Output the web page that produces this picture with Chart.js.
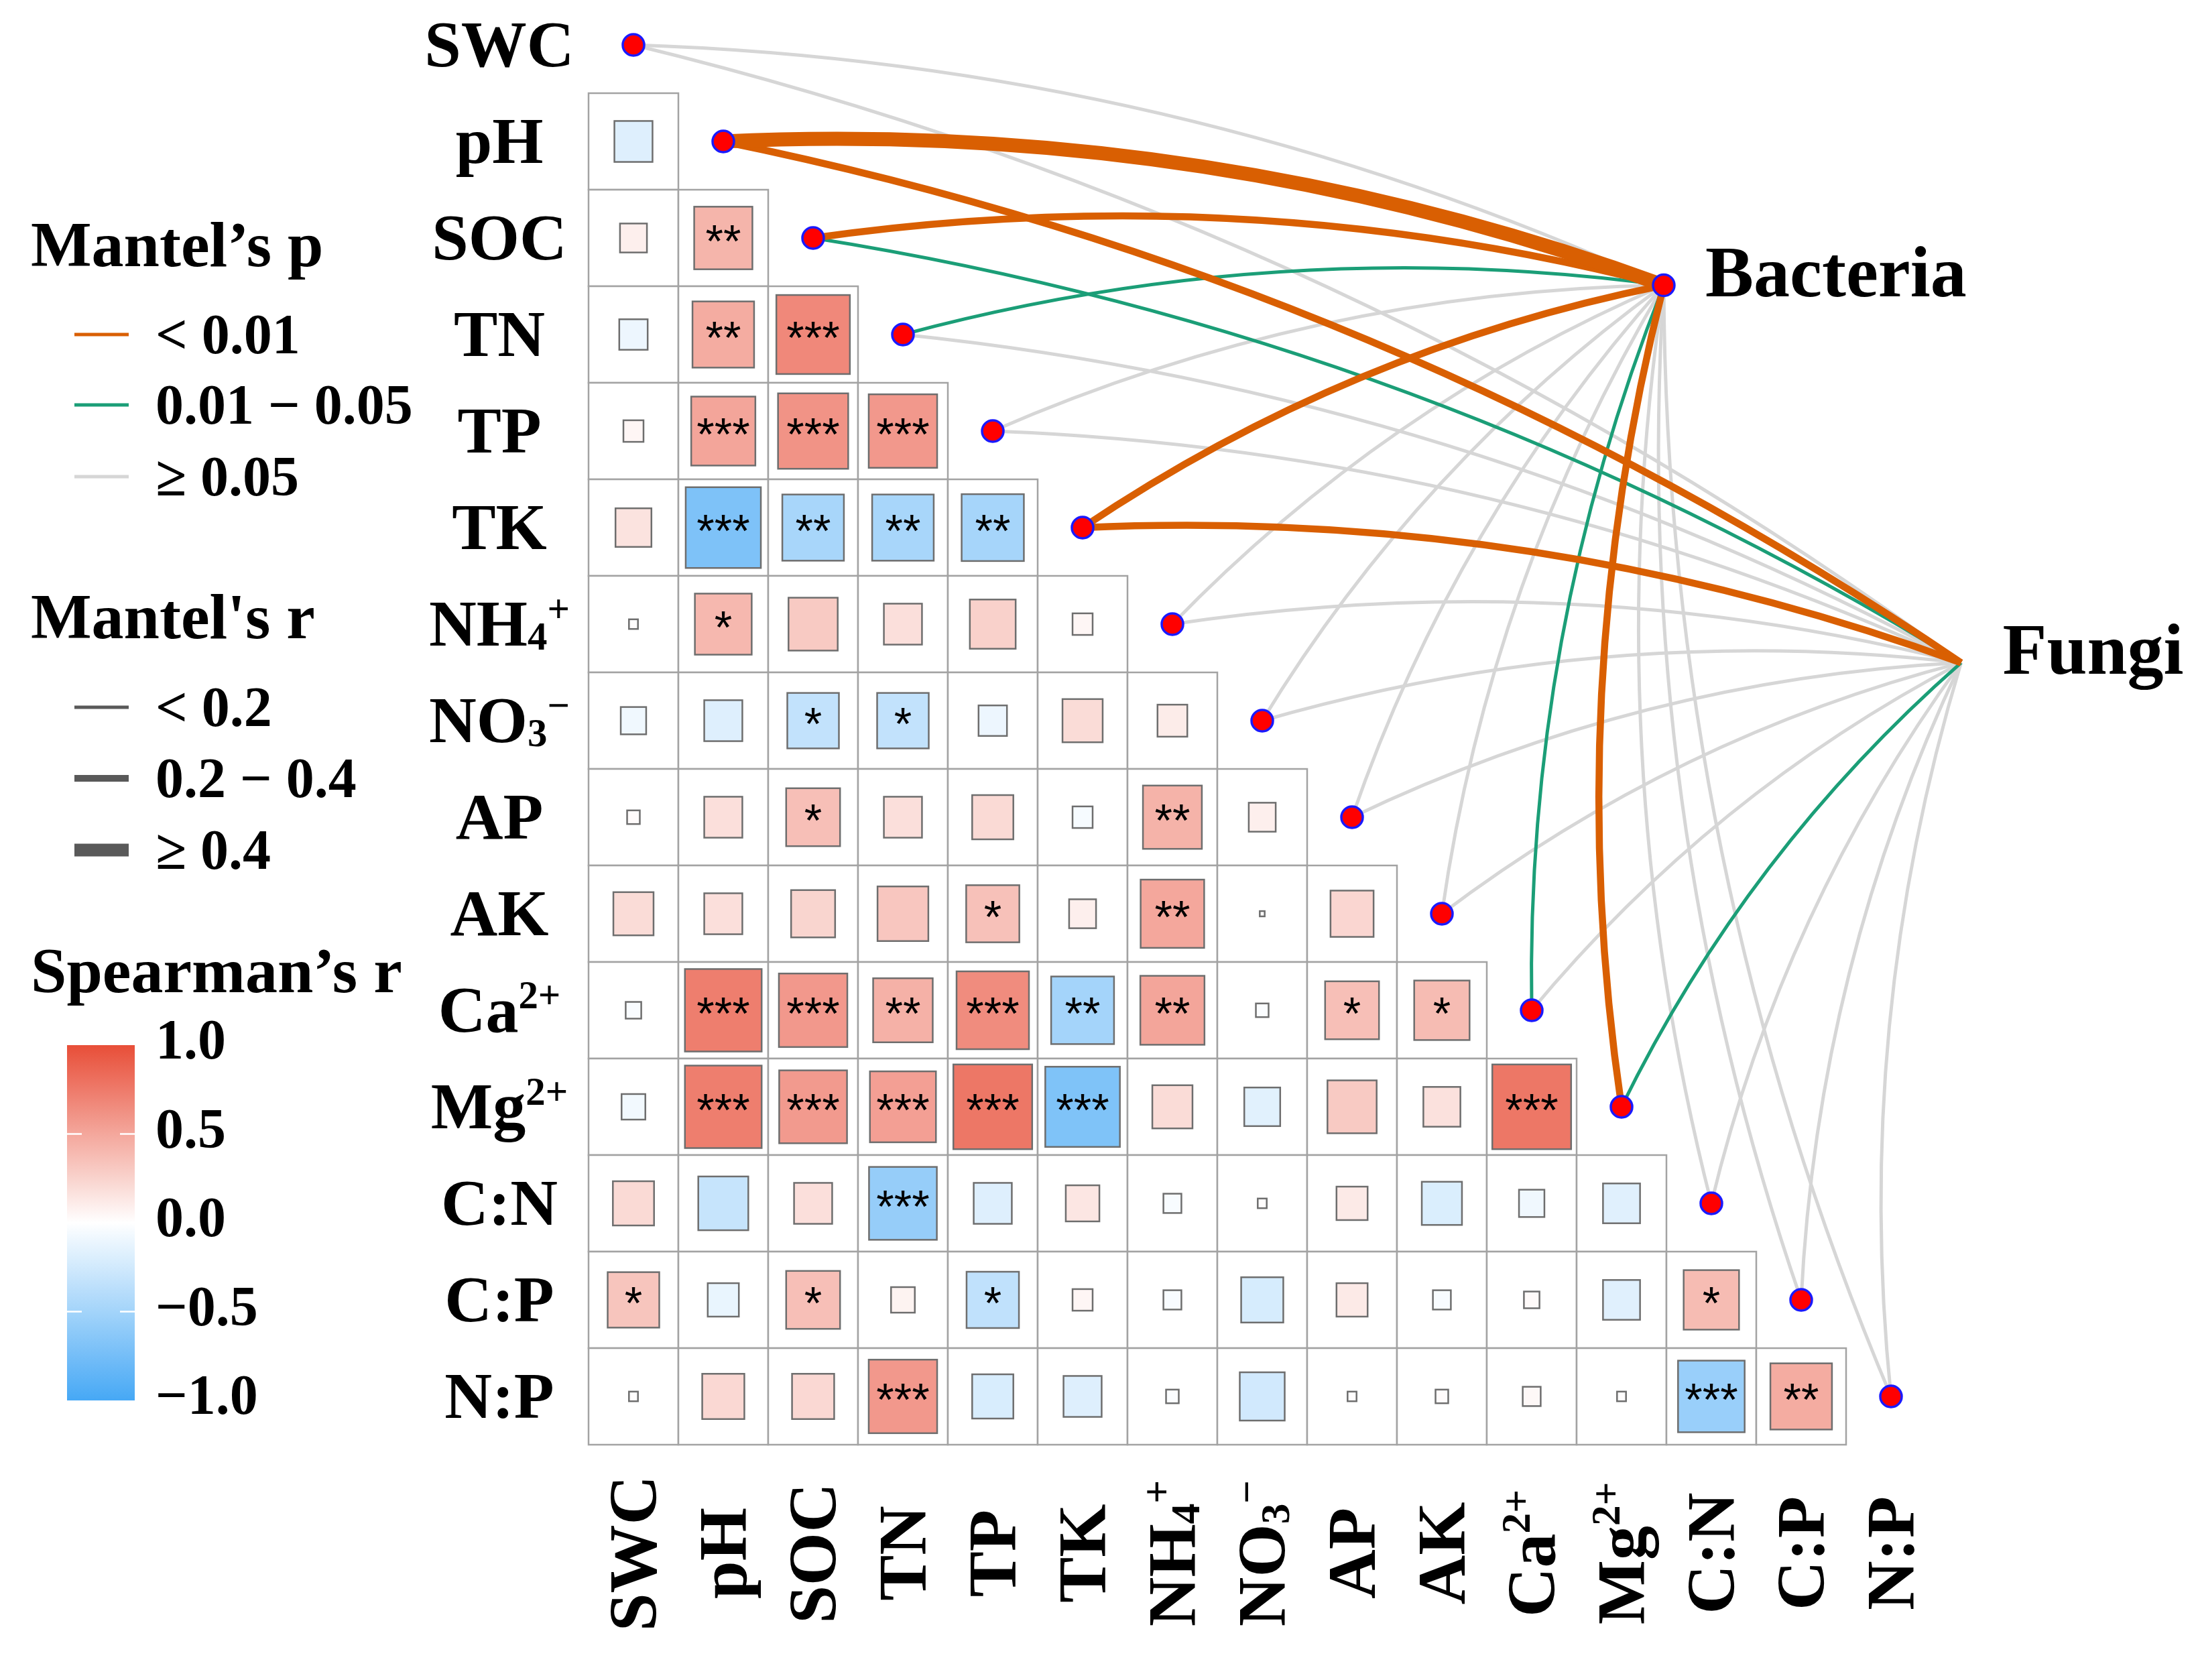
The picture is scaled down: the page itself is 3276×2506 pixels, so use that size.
<!DOCTYPE html>
<html><head><meta charset="utf-8">
<script src="https://cdn.jsdelivr.net/npm/chart.js@4.4.1/dist/chart.umd.min.js"></script>
<style>html,body{margin:0;padding:0;background:#fff;}#wrap{width:3276px;height:2506px;}</style>
</head><body><div id="wrap"><canvas id="c" width="3276" height="2506"></canvas></div>
<script>
// ---------- DATA ----------
const variables = ['SWC','pH','SOC','TN','TP','TK','NH4+','NO3-','AP','AK','Ca2+','Mg2+','C:N','C:P','N:P'];

// Spearman's r, lower triangle: row i holds correlations with variables 0..i-1
const spearmanR = [
  [],
  [-0.18],
  [0.09, 0.42],
  [-0.10, 0.47, 0.67],
  [0.05, 0.51, 0.61, 0.58],
  [0.16, -0.70, -0.47, -0.47, -0.48],
  [0.01, 0.40, 0.30, 0.18, 0.26, 0.05],
  [-0.08, -0.18, -0.33, -0.33, -0.10, 0.20, 0.11],
  [0.02, 0.18, 0.36, 0.18, 0.21, -0.05, 0.43, 0.09],
  [0.20, 0.18, 0.24, 0.32, 0.35, 0.09, 0.50, 0.003, 0.23],
  [-0.03, 0.73, 0.58, 0.44, 0.65, -0.49, 0.51, -0.02, 0.36, 0.38],
  [-0.07, 0.73, 0.57, 0.54, 0.77, -0.69, 0.20, -0.16, 0.30, 0.17, 0.77],
  [0.21, -0.31, 0.18, -0.57, -0.18, 0.14, -0.04, 0.01, 0.12, -0.20, -0.08, -0.17],
  [0.33, -0.12, 0.36, 0.07, -0.34, 0.05, -0.04, -0.22, 0.12, -0.04, 0.03, -0.17, 0.38],
  [0.01, 0.22, 0.22, 0.58, -0.21, -0.18, -0.02, -0.25, 0.01, 0.02, 0.04, 0.01, -0.55, 0.47]
];
const spearmanSig = [
  [],
  [''],
  ['', '**'],
  ['', '**', '***'],
  ['', '***', '***', '***'],
  ['', '***', '**', '**', '**'],
  ['', '*', '', '', '', ''],
  ['', '', '*', '*', '', '', ''],
  ['', '', '*', '', '', '', '**', ''],
  ['', '', '', '', '*', '', '**', '', ''],
  ['', '***', '***', '**', '***', '**', '**', '', '*', '*'],
  ['', '***', '***', '***', '***', '***', '', '', '', '', '***'],
  ['', '', '', '***', '', '', '', '', '', '', '', ''],
  ['*', '', '*', '', '*', '', '', '', '', '', '', '', '*'],
  ['', '', '', '***', '', '', '', '', '', '', '', '', '***', '**']
];

// Mantel test results (one value per variable)
const bacteriaR = [0.08, 0.45, 0.30, 0.15, 0.10, 0.28, 0.05, 0.06, 0.09, 0.07, 0.16, 0.32, 0.04, 0.06, 0.05];
const bacteriaP = [0.32, 0.001, 0.004, 0.03, 0.12, 0.006, 0.45, 0.38, 0.21, 0.29, 0.02, 0.003, 0.55, 0.41, 0.48];
const fungiR    = [0.06, 0.29, 0.17, 0.09, 0.08, 0.31, 0.05, 0.04, 0.07, 0.06, 0.10, 0.18, 0.05, 0.07, 0.03];
const fungiP    = [0.40, 0.002, 0.02, 0.15, 0.22, 0.004, 0.50, 0.60, 0.30, 0.35, 0.09, 0.04, 0.47, 0.33, 0.70];

const speciesNames = ['Bacteria', 'Fungi'];
const speciesX = [11.47, 14.78];
const speciesY = [2.49, 6.40];

const pLegendLabels = ['< 0.01', '0.01 \u2212 0.05', '\u2265 0.05'];
const rLegendLabels = ['< 0.2', '0.2 \u2212 0.4', '\u2265 0.4'];
const colorbarTicks = [1.0, 0.5, 0.0, -0.5, -1.0];

// ---------- STYLE ----------
const ORANGE = '#D95F02', GREEN = '#1B9E77', GREY = '#D6D6D6';
const SERIF = '"Liberation Serif", "Times New Roman", serif';
const RED = [232, 78, 56], BLUE = [70, 168, 245];

function fillFor(v) {
  const t = Math.min(1, Math.abs(v));
  const c = v >= 0 ? RED : BLUE;
  const r = Math.round(255 + (c[0] - 255) * t), g = Math.round(255 + (c[1] - 255) * t), b = Math.round(255 + (c[2] - 255) * t);
  return `rgb(${r},${g},${b})`;
}
function pColor(p) { return p < 0.01 ? ORANGE : (p < 0.05 ? GREEN : GREY); }
function rWidth(r) { return r >= 0.4 ? 21 : (r >= 0.2 ? 10.5 : 5); }

function richParts(name) {
  const m = {
    'NH4+': [['NH', 0], ['4', -1], ['+', 1]],
    'NO3-': [['NO', 0], ['3', -1], ['\u2212', 1]],
    'Ca2+': [['Ca', 0], ['2+', 1]],
    'Mg2+': [['Mg', 0], ['2+', 1]]
  };
  return m[name] || [[name, 0]];
}
function drawRich(ctx, name, size, align) {
  const parts = richParts(name);
  const small = size * 0.6;
  const widths = parts.map(p => { ctx.font = `bold ${p[1] ? small : size}px ${SERIF}`; return ctx.measureText(p[0]).width; });
  const total = widths.reduce((a, b) => a + b, 0);
  let x = align === 'center' ? -total / 2 : (align === 'right' ? -total : 0);
  ctx.textAlign = 'left';
  ctx.textBaseline = 'alphabetic';
  parts.forEach((p, i) => {
    ctx.font = `bold ${p[1] ? small : size}px ${SERIF}`;
    const dy = p[1] === 1 ? -size * 0.36 : (p[1] === -1 ? size * 0.06 : 0);
    ctx.fillText(p[0], x, dy);
    x += widths[i];
  });
}

const corrPlugin = {
  id: 'corrplot',
  beforeDatasetsDraw(chart) {
    const ctx = chart.ctx, xs = chart.scales.x, ys = chart.scales.y;
    ctx.save();
    // cells
    ctx.lineWidth = 2.5;
    ctx.strokeStyle = '#A3A3A3';
    for (let r = 1; r < variables.length; r++) {
      for (let c = 0; c < r; c++) {
        const x0 = xs.getPixelForValue(c - 0.5), x1 = xs.getPixelForValue(c + 0.5);
        const y0 = ys.getPixelForValue(r - 0.5), y1 = ys.getPixelForValue(r + 0.5);
        ctx.fillStyle = '#fff';
        ctx.fillRect(x0, y0, x1 - x0, y1 - y0);
        ctx.strokeRect(x0, y0, x1 - x0, y1 - y0);
      }
    }
    // squares + stars
    for (let r = 1; r < variables.length; r++) {
      for (let c = 0; c < r; c++) {
        const v = spearmanR[r][c];
        const f = Math.sqrt(Math.abs(v));
        const cx = xs.getPixelForValue(c), cy = ys.getPixelForValue(r);
        const w = (xs.getPixelForValue(c + 0.5) - xs.getPixelForValue(c - 0.5)) * f;
        const h = (ys.getPixelForValue(r + 0.5) - ys.getPixelForValue(r - 0.5)) * f;
        ctx.fillStyle = fillFor(v);
        ctx.fillRect(cx - w / 2, cy - h / 2, w, h);
        ctx.lineWidth = 2.5;
        ctx.strokeStyle = '#6E6E6E';
        ctx.strokeRect(cx - w / 2, cy - h / 2, w, h);
        const s = spearmanSig[r][c];
        if (s) {
          ctx.fillStyle = '#000';
          ctx.font = '68px "Liberation Sans", Arial, sans-serif';
          ctx.textAlign = 'center';
          ctx.textBaseline = 'alphabetic';
          ctx.fillText(s, cx, cy + 28);
        }
      }
    }
    // Mantel links
    const links = [];
    variables.forEach((v, i) => {
      links.push({ i, s: 0, r: bacteriaR[i], p: bacteriaP[i] });
      links.push({ i, s: 1, r: fungiR[i], p: fungiP[i] });
    });
    const rank = l => (l.p < 0.01 ? 2 : (l.p < 0.05 ? 1 : 0)) * 10 + rWidth(l.r) / 100;
    links.sort((a, b) => rank(a) - rank(b));
    ctx.lineCap = 'butt';
    links.forEach(l => {
      const x1 = xs.getPixelForValue(l.i), y1 = ys.getPixelForValue(l.i);
      const x2 = xs.getPixelForValue(speciesX[l.s]), y2 = ys.getPixelForValue(speciesY[l.s]);
      const dx = x2 - x1, dy = y2 - y1;
      const k = 0.1;
      const mx = (x1 + x2) / 2 + k * dy, my = (y1 + y2) / 2 - k * dx;
      ctx.beginPath();
      ctx.moveTo(x1, y1);
      ctx.quadraticCurveTo(mx, my, x2, y2);
      ctx.strokeStyle = pColor(l.p);
      ctx.lineWidth = rWidth(l.r);
      ctx.stroke();
    });
    ctx.restore();
  },
  afterDatasetsDraw(chart) {
    const ctx = chart.ctx, xs = chart.scales.x, ys = chart.scales.y;
    ctx.save();
    ctx.fillStyle = '#000';
    // row labels
    variables.forEach((v, i) => {
      ctx.save();
      ctx.translate(745, ys.getPixelForValue(i) + 32);
      drawRich(ctx, v, 98, 'center');
      ctx.restore();
    });
    // column labels (rotated)
    variables.forEach((v, i) => {
      ctx.save();
      ctx.translate(xs.getPixelForValue(i), 2317);
      ctx.rotate(-Math.PI / 2);
      ctx.translate(0, 34);
      drawRich(ctx, v, 102, 'center');
      ctx.restore();
    });
    // species labels
    speciesNames.forEach((n, s) => {
      ctx.font = `bold 108px ${SERIF}`;
      ctx.textAlign = 'left';
      ctx.textBaseline = 'alphabetic';
      ctx.fillText(n, xs.getPixelForValue(speciesX[s]) + 62, ys.getPixelForValue(speciesY[s]) + 16);
    });
    // legends
    ctx.textAlign = 'left';
    ctx.textBaseline = 'alphabetic';
    ctx.font = `bold 96px ${SERIF}`;
    ctx.fillText('Mantel\u2019s p', 46, 397);
    const pCols = [ORANGE, GREEN, GREY], pYs = [499, 604, 711];
    pLegendLabels.forEach((t, k) => {
      ctx.beginPath(); ctx.moveTo(111, pYs[k]); ctx.lineTo(192, pYs[k]);
      ctx.strokeStyle = pCols[k]; ctx.lineWidth = 5; ctx.stroke();
      ctx.font = `bold 84px ${SERIF}`; ctx.fillStyle = '#000';
      ctx.fillText(t, 232, pYs[k] + 28);
    });
    ctx.font = `bold 96px ${SERIF}`;
    ctx.fillText('Mantel\'s r', 46, 952);
    const rWs = [5, 10, 19], rYs = [1055, 1161, 1268];
    rLegendLabels.forEach((t, k) => {
      ctx.beginPath(); ctx.moveTo(111, rYs[k]); ctx.lineTo(192, rYs[k]);
      ctx.strokeStyle = '#595959'; ctx.lineWidth = rWs[k]; ctx.stroke();
      ctx.font = `bold 84px ${SERIF}`; ctx.fillStyle = '#000';
      ctx.fillText(t, 232, rYs[k] + 28);
    });
    ctx.font = `bold 96px ${SERIF}`;
    ctx.fillText('Spearman\u2019s r', 46, 1480);
    const cbTop = 1559, cbBot = 2089, cbL = 100, cbR = 201;
    const grad = ctx.createLinearGradient(0, cbTop, 0, cbBot);
    for (let t = 0; t <= 20; t++) {
      const v = 1 - t / 10;
      grad.addColorStop(t / 20, fillFor(v));
    }
    ctx.fillStyle = grad;
    ctx.fillRect(cbL, cbTop, cbR - cbL, cbBot - cbTop);
    colorbarTicks.forEach(v => {
      const y = cbTop + (1 - v) / 2 * (cbBot - cbTop);
      if (Math.abs(v) < 1) {
        ctx.strokeStyle = '#fff'; ctx.lineWidth = 2.5;
        ctx.beginPath(); ctx.moveTo(cbL, y); ctx.lineTo(cbL + 22, y); ctx.moveTo(cbR - 22, y); ctx.lineTo(cbR, y); ctx.stroke();
      }
      ctx.fillStyle = '#000';
      ctx.font = `bold 84px ${SERIF}`;
      const lab = (v < 0 ? '\u2212' : '') + Math.abs(v).toFixed(1);
      ctx.fillText(lab, 232, y + 20);
    });
    ctx.restore();
  }
};

const nodeStyle = { pointRadius: 16, pointHoverRadius: 16, pointBackgroundColor: '#FF0000', pointBorderColor: '#1A1AFF', pointBorderWidth: 3.5, clip: false };
new Chart(document.getElementById('c').getContext('2d'), {
  type: 'scatter',
  data: {
    datasets: [
      Object.assign({ label: 'Environment', data: variables.map((v, i) => ({ x: i, y: i })) }, nodeStyle),
      Object.assign({ label: 'Species', data: speciesNames.map((n, s) => ({ x: speciesX[s], y: speciesY[s] })) }, nodeStyle)
    ]
  },
  options: {
    responsive: false,
    devicePixelRatio: 1,
    animation: false,
    events: [],
    layout: { autoPadding: false, padding: { left: 878, right: 388, top: 0, bottom: 351 } },
    plugins: { legend: { display: false }, tooltip: { enabled: false } },
    scales: {
      x: { type: 'linear', min: -0.5, max: 14.5, display: false },
      y: { type: 'linear', min: -0.4653, max: 14.5, reverse: true, display: false }
    }
  },
  plugins: [corrPlugin]
});
</script></body></html>
